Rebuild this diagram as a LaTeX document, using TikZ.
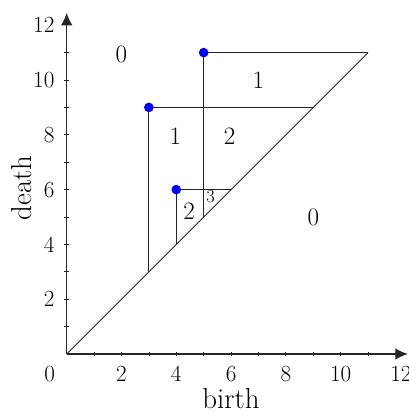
\documentclass[tikz,border=0pt]{standalone}
\usetikzlibrary{arrows.meta}
\begin{document}
\begin{tikzpicture}[x=1cm,y=1cm,
  bar/.style={draw=black!85, line width=1pt},
  axis/.style={draw=black!85, line width=1.1pt, -{Latex[length=13pt,width=12pt]}},
  tickmark/.style={draw=black!85, line width=0.8pt},
  ticklab/.style={font=\fontsize{24}{28}\selectfont},
  reglab/.style={font=\fontsize{26}{30}\selectfont},
  smalllab/.style={font=\fontsize{19}{22}\selectfont},
  axlab/.style={font=\fontsize{30}{34}\selectfont, inner sep=0pt},
  dot/.style={circle, fill=blue, inner sep=0pt, minimum size=10pt}]
\useasboundingbox (-2.434,-2.117) rectangle (12.49,12.92);
% axes
\coordinate (O) at (0,0);
\coordinate (xe) at (12.45,0);
\coordinate (ye) at (0,12.45);
\draw[axis] (O) -- (xe);
\draw[axis] (O) -- (ye);
\foreach \i in {1,...,11} {
  \draw[tickmark] (\i,-0.08) -- (\i,0.08);
  \draw[tickmark] (-0.08,\i) -- (0.08,\i);
}
\foreach \i in {2,4,6,8,10} {
  \node[ticklab] (xl\i) at (\i,-0.72) {\i};
}
\node[ticklab, inner sep=0pt] (xl12) at (12.2,-0.72) {12};
\node[ticklab] (xl0) at (-0.62,-0.72) {0};
\foreach \i in {2,4,...,12} {
  \node[ticklab, anchor=east, inner sep=0pt] (yl\i) at (-0.44,\i) {\i};
}
\node[axlab] (birth) at (6,-1.62) {birth};
\node[axlab, rotate=90] (death) at (-1.63,6.06) {death};
% diagonal
\coordinate (D) at (11,11);
\draw[bar] (O) -- (D);
% points
\coordinate (a) at (3,9);
\coordinate (b) at (4,6);
\coordinate (c) at (5,11);
\coordinate (a1) at (3,3);
\coordinate (a2) at (9,9);
\coordinate (b1) at (4,4);
\coordinate (b2) at (6,6);
\coordinate (c1) at (5,5);
\coordinate (c2) at (11,11);
\draw[bar] (a1) -- (a) -- (a2);
\draw[bar] (b1) -- (b) -- (b2);
\draw[bar] (c1) -- (c) -- (c2);
\node[dot] (pa) at (a) {};
\node[dot] (pb) at (b) {};
\node[dot] (pc) at (c) {};
% region labels
\node[reglab] (r0a) at (2,10.95) {0};
\node[reglab] (r1a) at (7,10) {1};
\node[reglab] (r1b) at (3.97,7.95) {1};
\node[reglab] (r2a) at (5.95,7.95) {2};
\node[reglab] (r2b) at (4.47,5.2) {2};
\node[smalllab] (r3) at (5.25,5.75) {3};
\node[reglab] (r0b) at (9,5) {0};
\end{tikzpicture}
\end{document}
